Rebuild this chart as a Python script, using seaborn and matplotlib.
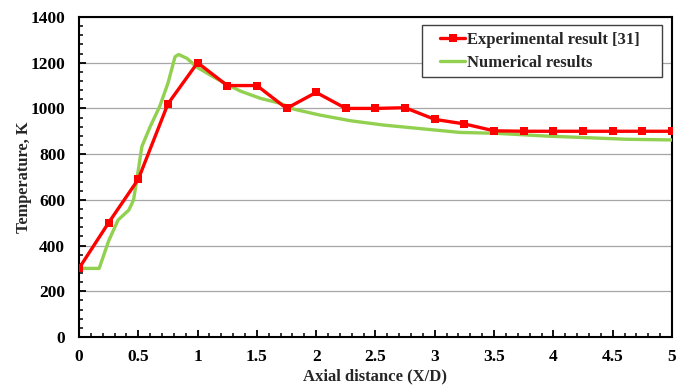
import matplotlib
matplotlib.use("Agg")
import matplotlib.pyplot as plt
from matplotlib.ticker import MultipleLocator
from matplotlib.legend_handler import HandlerLine2D
from matplotlib.lines import Line2D
import seaborn as sns
import pandas as pd

# Experimental data (red, square markers)
exp_x = [0, 0.25, 0.5, 0.75, 1.0, 1.25, 1.5, 1.75, 2.0, 2.25, 2.5, 2.75,
         3.0, 3.25, 3.5, 3.75, 4.0, 4.25, 4.5, 4.75, 5.0]
exp_t = [300, 500, 690, 1020, 1200, 1100, 1100, 1000, 1070, 1000, 1000, 1003,
         952, 932, 902, 900, 900, 900, 900, 900, 900]

# Numerical results (green line)
num_x = [0, 0.17, 0.25, 0.33, 0.42, 0.46, 0.50, 0.53, 0.60, 0.68, 0.75, 0.81,
         0.84, 0.91, 0.99, 1.13, 1.23, 1.36, 1.53, 1.70, 1.81, 2.03, 2.29,
         2.57, 2.85, 3.21, 3.52, 3.94, 4.62, 5.0]
num_t = [300, 300, 420, 512, 555, 599, 730, 833, 920, 1008, 1110, 1226,
         1236, 1219, 1182, 1139, 1110, 1076, 1044, 1022, 997, 971, 946,
         927, 913, 895, 891, 879, 865, 862]

labels = ["Experimental result [31]", "Numerical results"]
xticks = [0, 0.5, 1, 1.5, 2, 2.5, 3, 3.5, 4, 4.5, 5]
xtick_labels = ["0", "0.5", "1", "1.5", "2", "2.5", "3", "3.5", "4", "4.5", "5"]
yticks = [0, 200, 400, 600, 800, 1000, 1200, 1400]
ytick_labels = ["0", "200", "400", "600", "800", "1000", "1200", "1400"]

df_exp = pd.DataFrame({"x": exp_x, "t": exp_t})
df_num = pd.DataFrame({"x": num_x, "t": num_t})

sns.set_style("white")
plt.rcParams["font.family"] = ["Liberation Serif", "DejaVu Serif"]
plt.rcParams["font.weight"] = "bold"

fig = plt.figure(figsize=(6.88, 3.86), dpi=100)
ax = fig.add_axes([0.1148, 0.127, 0.9767 - 0.1148, 0.956 - 0.127])

sns.lineplot(data=df_exp, x="x", y="t", ax=ax, color="#FF0000", lw=2.4,
             marker="s", markersize=5.5, markeredgewidth=0, label=labels[0],
             zorder=4)
sns.lineplot(data=df_num, x="x", y="t", ax=ax, color="#92D050", lw=2.4,
             label=labels[1], zorder=3)

ax.set_xlim(0, 5)
ax.set_ylim(0, 1400)
ax.set_xticks(xticks, labels=xtick_labels)
ax.set_yticks(yticks, labels=ytick_labels)
ax.xaxis.set_minor_locator(MultipleLocator(0.1))
ax.yaxis.set_minor_locator(MultipleLocator(40))

ax.grid(axis="y", which="major", color="#A6A6A6", lw=0.9)
ax.set_axisbelow(True)
for s in ax.spines.values():
    s.set_color("black")
    s.set_linewidth(1.5)

ax.tick_params(axis="both", which="major", direction="in", length=5, width=1.3,
               labelsize=12.5, colors="black")
ax.tick_params(axis="x", which="major", pad=9)
ax.tick_params(axis="y", which="major", pad=10)
ax.tick_params(axis="both", which="minor", direction="in", length=3, width=1.3)
ax.tick_params(axis="x", which="both", bottom=True, top=False)
ax.tick_params(axis="y", which="both", left=True, right=False)

ax.set_xlabel("Axial distance (X/D)", fontsize=12, fontweight="bold", labelpad=2)
ax.set_ylabel("Temperature, K", fontsize=11.8, fontweight="bold", labelpad=-1)

handles, labs = ax.get_legend_handles_labels()
leg = ax.legend(handles, labs, loc="upper left",
                bbox_to_anchor=(0.578, 0.816, 0.405, 0.159), mode="expand",
                borderaxespad=0,
                frameon=True, fancybox=False, framealpha=1,
                edgecolor="#404040", handlelength=2.2,
                handletextpad=0.1, borderpad=0.4, labelspacing=0.42,
                prop={"weight": "bold", "size": 12},
                handler_map={Line2D: HandlerLine2D(xpad=0.7)})
leg.get_frame().set_linewidth(1.0)

fig.savefig("out.png", dpi=100)
